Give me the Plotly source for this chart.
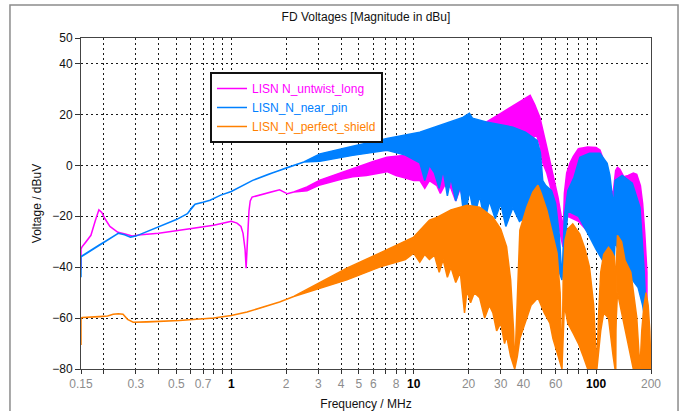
import plotly.graph_objects as go
import math

# ---------------- data ----------------
# Frequencies in MHz, voltages in dBuV.
# Each series: a smooth low-frequency line, then a dense band described by
# its upper and lower envelopes.

mag_line_f = [0.15, 0.15, 0.152, 0.16, 0.17, 0.18, 0.188, 0.195, 0.203, 0.216, 0.239, 0.262, 0.286,
              0.32, 0.40, 0.52, 0.62, 0.80, 0.95, 1.0, 1.075, 1.13, 1.16, 1.19, 1.206, 1.225, 1.25,
              1.27, 1.30, 1.40, 1.49, 1.65, 1.84, 2.03, 2.2]
mag_line_v = [-41, -33, -32, -30, -27.5, -21.6, -17.5, -18.5, -21, -24, -26.3, -27, -27.8,
              -27.3, -26.7, -25.5, -24.7, -23.5, -22.4, -22, -22.7, -24, -26.7, -33, -40.4, -30, -18,
              -14, -12.5, -11.8, -11.2, -10.5, -9.6, -11.2, -10.5]
mag_up_f = [2.6, 3.06, 4.0, 4.63, 6.0, 7.14, 9.0, 10.8, 13.4, 16, 20, 25, 29.7, 35, 40, 43.5, 46, 49.2,
            53.7, 57.9, 61.8, 65, 65.8, 67, 69, 72, 75, 80, 90, 100, 105, 110, 115, 119, 124, 126,
            128, 131, 135, 142, 150, 160, 167, 175, 180, 185, 190]
mag_up_v = [-8.5, -5.8, -2.8, -1.2, 1.5, 3.2, 4, 4.5, 6, 8, 11, 17, 20.2, 23.3, 26, 27.5, 24, 18.8,
            7, -3, -12.5, -21.6, -30, -11, -3, 1, 3.5, 6.5, 7.2, 7, 6, 2, -4, -9, -11, -6,
            -2, -0.8, -1.5, -4.5, -4, -3, -3.5, -8, -15, -27, -42]
mag_lo_f = [2.6, 3.06, 4.0, 4.63, 5.5, 6.0, 7.14, 8, 9.0, 10, 10.8, 11.5, 12.2, 13.4, 14, 15, 16, 17,
            18, 19, 20, 22, 25, 30, 35, 40, 44, 47, 49.2, 51, 53.7, 57.9, 61.8, 65, 65.8, 67, 70,
            80, 90, 100, 110, 119, 124, 128, 135, 150, 167, 180, 190]
mag_lo_v = [-10, -7.7, -5.5, -4.5, -4, -3.5, -2.5, -4, -5, -6, -5.9, -9, -6, -8, -11, -7, -9, -14,
            -9, -16, -10, -12, -8, -6, -5, 0, 10, 12, 8, 1, -3, -12, -22, -30, -32, -25, -20,
            -22, -26, -30, -35, -40, -30, -20, -25, -35, -42, -50, -60]

blue_line_f = [0.15, 0.15, 0.152, 0.17, 0.188, 0.21, 0.24, 0.26, 0.28, 0.30, 0.35, 0.42, 0.5, 0.575,
               0.61, 0.633, 0.7, 0.765, 0.869, 1.0, 1.31, 1.6, 2.03, 2.5]
blue_line_v = [-44, -36, -35.5, -33.5, -31.4, -29.3, -26.7, -27.3, -28.2, -27.8, -25.8, -23.5, -21.3, -19,
               -16.5, -15.3, -14.5, -13.7, -11.8, -10.3, -5.9, -3.5, -0.8, 1.3]
blue_up_f = [2.5, 3.06, 4.63, 7.14, 10.8, 13, 15.8, 18.6, 20.2, 21, 25, 30, 35, 41, 47.5, 49.5, 51, 53,
             57, 60, 63, 65, 67, 70, 75.7, 81.4, 92, 105, 115, 119, 122, 124.5, 127, 139, 158, 174,
             183, 190]
blue_up_v = [1.3, 4.5, 7.5, 10.5, 13, 15, 17, 18.8, 20.4, 18.5, 17, 16, 15, 13, 9.8, 5, -6, -8,
             -10, -15, -28, -45, -20, -10, -4.7, 3.1, 4.7, 4.7, 0.8, -4, -11, -16, -5.9, -4, -7, -16.5,
             -40, -65]
blue_lo_f = [2.5, 3.06, 4.63, 7.14, 9, 10.8, 11.5, 12.2, 13, 13.8, 14.5, 15.3, 16, 17, 18, 19, 20.2,
             21.5, 23, 24.5, 26, 28, 30, 32, 35, 38, 42, 47, 50, 55, 60, 65, 67, 70, 80, 92, 100,
             110, 118, 124.5, 127, 135, 145, 158, 170, 180, 190]
blue_lo_v = [1.3, 1.6, 3.9, 5.9, 4, 1, -6, 0, -3, -9, -2, -12, -5, -14, -8, -22, -10,
             -20, -12, -22, -14, -21, -15, -24, -16.6, -22, -20, -25, -30, -33, -38, -45, -35, -18, -20, -28, -33,
             -38, -42, -44, -30, -35, -40, -45, -48, -55, -65]

org_line_f = [0.15, 0.15, 0.152, 0.19, 0.21, 0.225, 0.24, 0.255, 0.27, 0.29, 0.35, 0.52, 0.8, 1.0,
              1.22, 1.5, 1.84, 2.2]
org_line_v = [-70.6, -60, -59.8, -59.5, -59.2, -58.5, -58.3, -58.5, -60.5, -61.6, -61.5, -61, -60, -59,
              -57.6, -55.7, -53.7, -51.5]
org_up_f = [2.2, 2.8, 4.3, 6.5, 10, 12.2, 13.4, 16, 19.6, 23, 27.2, 30, 32.3, 34, 35.3, 35.8, 37.5,
            38.2, 41.7, 45, 48, 50, 53.7, 57.9, 61.1, 63.5, 65, 66, 67.6, 70, 74.5, 81.4, 87, 92,
            97, 101, 103, 106, 110, 117, 122, 126, 127.5, 128.2, 129, 131, 138, 144, 155, 167, 174,
            178, 183, 188, 193, 197, 200]
org_up_v = [-51.5, -47.5, -40.4, -34.5, -28.2, -21.5, -20.5, -17.5, -15.7, -16.5, -20.4, -25, -32, -45,
            -65, -80, -35, -25.5, -16.5, -10.5, -7.8, -11, -17.6, -28.2, -34.5, -50, -80, -45, -29.4,
            -25, -23, -27, -33, -40, -55, -80, -60, -42, -35, -32.2, -34, -36, -45, -80, -40, -27.5,
            -30, -37.3, -42, -59.6, -80, -65, -55, -50, -55, -65, -80]
org_lo_f = [2.2, 2.8, 4.3, 6.5, 8, 9, 10, 10.8, 11.5, 12.2, 13, 13.8, 14.5, 15.3, 16, 17, 18, 19,
            19.6, 20.5, 21.5, 23, 24.5, 26, 27.2, 28.5, 30, 31.5, 32.3, 34, 35.8, 37, 38.2, 41.7, 44,
            48, 52, 55.8, 58, 62, 65, 67, 70, 75, 80, 85, 90, 101, 106, 110, 117, 124, 127, 129,
            131, 135, 140, 150, 160, 200]
org_lo_v = [-51.5, -49, -45, -40, -38, -37, -34.5, -38, -35, -37, -35.3, -42, -37, -44, -40, -46, -42,
            -58, -49, -54, -50, -52, -60, -55, -58, -65, -62, -70, -67, -75, -80, -75, -68, -60, -55,
            -52, -58, -62, -68, -75, -80, -55, -62, -66, -70, -75, -80, -80, -65, -58, -60, -75, -80,
            -60, -50, -55, -60, -70, -80, -80]

series_names = ["LISN N_untwist_long", "LISN_N_near_pin", "LISN_N_perfect_shield"]
series_colors = ["#ff00ff", "#0080ff", "#ff8000"]

x_tick_vals = [0.15, 0.2, 0.3, 0.4, 0.5, 0.6, 0.7, 0.8, 0.9, 1, 2, 3, 4, 5, 6, 7, 8, 9,
               10, 20, 30, 40, 50, 60, 70, 80, 90, 100, 200]
x_tick_text = ["0.15", "", "0.3", "", "0.5", "", "0.7", "", "", "1", "2", "3", "4", "5", "6", "", "8", "",
               "10", "20", "30", "40", "", "60", "", "", "", "100", "200"]
x_bold_labels = ["1", "10", "100"]
y_tick_vals = [-80, -60, -40, -20, 0, 20, 40, 50]
x_min, x_max = 0.15, 200
y_min, y_max = -80, 50

# ---------------- figure ----------------
FONT = "Liberation Sans, Arial, sans-serif"
fig = go.Figure()

bands = [
    (mag_line_f, mag_line_v, mag_up_f, mag_up_v, mag_lo_f, mag_lo_v),
    (blue_line_f, blue_line_v, blue_up_f, blue_up_v, blue_lo_f, blue_lo_v),
    (org_line_f, org_line_v, org_up_f, org_up_v, org_lo_f, org_lo_v),
]
for (lf, lv, uf, uv, bf, bv), col in zip(bands, series_colors):
    xs = lf + uf + bf[::-1] + lf[::-1]
    ys = lv + uv + bv[::-1] + lv[::-1]
    fig.add_trace(go.Scatter(x=xs, y=ys, mode="lines", fill="toself", fillcolor=col,
                             line=dict(color=col, width=1.5), showlegend=False, hoverinfo="skip"))

for name, col in zip(series_names, series_colors):
    fig.add_trace(go.Scatter(x=[None], y=[None], mode="lines", line=dict(color=col, width=1.5),
                             name=f"<span style='color:{col}'>{name}</span>"))

ticktext = [f"<span style='color:#000'><b>{t}</b></span>" if t in x_bold_labels else t for t in x_tick_text]

grid = dict(showgrid=True, gridcolor="#1a1a1a", gridwidth=1, griddash="2px,3px")
fig.update_xaxes(type="log", range=[math.log10(x_min), math.log10(x_max)], tickmode="array",
                 tickvals=x_tick_vals,
                 ticktext=ticktext, tickfont=dict(family=FONT, size=12, color="#8c8c8c"),
                 ticks="outside", ticklen=4, tickcolor="#333", showline=True, linecolor="#444",
                 linewidth=1, mirror=True, zeroline=False,
                 title=dict(text="Frequency / MHz", font=dict(family=FONT, size=12, color="#111"), standoff=9),
                 **grid)
fig.update_yaxes(range=[y_min, y_max], tickmode="array", tickvals=y_tick_vals,
                 tickfont=dict(family=FONT, size=12, color="#111"),
                 ticks="outside", ticklen=5, tickcolor="#333", showline=True, linecolor="#444",
                 linewidth=1, mirror=True, zeroline=False,
                 title=dict(text="Voltage / dBuV", font=dict(family=FONT, size=12, color="#111"), standoff=8),
                 **grid)

fig.add_shape(type="rect", xref="paper", yref="paper", x0=-0.1246, x1=1.0474, y0=-0.25, y1=1.0997,
              line=dict(color="#8c8c8c", width=1.5), layer="below")

fig.update_layout(
    width=684, height=411,
    margin=dict(l=81, r=33, t=38, b=42, autoexpand=False),
    paper_bgcolor="white", plot_bgcolor="white",
    font=dict(family=FONT, size=12, color="#111"),
    title=dict(text="FD Voltages [Magnitude in dBu]", x=0.5, xref="paper", xanchor="center",
               y=1 - 17 / 411, yanchor="middle", font=dict(family=FONT, size=12, color="#111")),
    legend=dict(x=0.2263, y=0.8973, xanchor="left", yanchor="top", bgcolor="white",
                bordercolor="#111", borderwidth=2, font=dict(family=FONT, size=12)),
    showlegend=True,
)

fig.write_html("out.html")
